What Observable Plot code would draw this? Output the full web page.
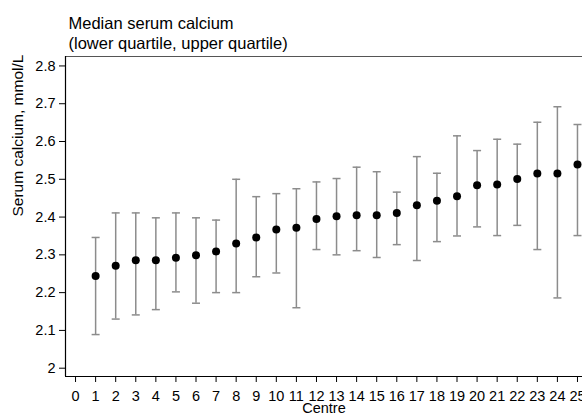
<!DOCTYPE html>
<html>
<head>
<meta charset="utf-8">
<script src="https://cdn.jsdelivr.net/npm/d3@7"></script>
<script src="https://cdn.jsdelivr.net/npm/@observablehq/plot@0.6"></script>
<style>
  html, body { margin: 0; padding: 0; background: #fff; }
  svg { font-family: "Liberation Sans", Arial, sans-serif; overflow: visible; }
</style>
</head>
<body>
<div id="chart"></div>
<script>
const centres = [1,2,3,4,5,6,7,8,9,10,11,12,13,14,15,16,17,18,19,20,21,22,23,24,25];
const median = [2.244,2.271,2.286,2.286,2.292,2.299,2.309,2.330,2.346,2.367,2.372,2.395,2.402,2.405,2.405,2.411,2.431,2.443,2.455,2.484,2.486,2.501,2.515,2.515,2.539];
const lowerQ = [2.089,2.130,2.141,2.155,2.202,2.172,2.200,2.200,2.242,2.252,2.160,2.314,2.300,2.311,2.293,2.327,2.285,2.335,2.350,2.374,2.351,2.378,2.314,2.186,2.351];
const upperQ = [2.346,2.411,2.411,2.398,2.411,2.398,2.392,2.500,2.454,2.462,2.475,2.493,2.502,2.532,2.520,2.466,2.560,2.516,2.615,2.576,2.606,2.593,2.651,2.692,2.645];
const xTicks = d3.range(0, 26);
const yTicks = [2, 2.1, 2.2, 2.3, 2.4, 2.5, 2.6, 2.7, 2.8];
const xDomain = [-0.5, 25.25];
const yDomain = [1.978, 2.825];
const titleLines = ["Median serum calcium", "(lower quartile, upper quartile)"];

const data = centres.map((c, i) => ({centre: c, median: median[i], lo: lowerQ[i], hi: upperQ[i]}));

const cap = { draw(ctx, size) { ctx.moveTo(-4, 0); ctx.lineTo(4, 0); } };
const barColor = "#8c8c8c";

const chart = Plot.plot({
  width: 582,
  height: 415,
  marginLeft: 65,
  marginRight: 0,
  marginTop: 56,
  marginBottom: 39,
  style: { fontFamily: '"Liberation Sans", Arial, sans-serif', fontSize: "15px", color: "#000", background: "#fff" },
  x: { domain: xDomain, label: null },
  y: { domain: yDomain, label: null },
  marks: [
    Plot.axisY({ ticks: yTicks, tickFormat: d => String(d), tickSize: 6, tickPadding: 4, fontSize: 14.5, label: null, stroke: "#000" }),
    Plot.axisX({ ticks: xTicks, tickFormat: d => String(d), tickSize: 6, tickPadding: 8, fontSize: 14.5, label: null, stroke: "#000" }),
    Plot.ruleY([yDomain[1]], { stroke: "#555", strokeWidth: 1.2 }),
    Plot.ruleX([xDomain[0]], { stroke: "#000", strokeWidth: 1.2 }),
    Plot.ruleY([yDomain[0]], { stroke: "#000", strokeWidth: 1.2 }),
    Plot.ruleX(data, { x: "centre", y1: "lo", y2: "hi", stroke: barColor, strokeWidth: 1.5 }),
    Plot.dot(data, { x: "centre", y: "lo", symbol: cap, stroke: barColor, strokeWidth: 1.5, fill: "none" }),
    Plot.dot(data, { x: "centre", y: "hi", symbol: cap, stroke: barColor, strokeWidth: 1.5, fill: "none" }),
    Plot.dot(data, { x: "centre", y: "median", r: 4, fill: "#000", stroke: "none" }),
    Plot.text([titleLines[0]], { frameAnchor: "top-left", textAnchor: "start", lineAnchor: "bottom", dx: 3, dy: -28, fontSize: 16.5, fill: "#000" }),
    Plot.text([titleLines[1]], { frameAnchor: "top-left", textAnchor: "start", lineAnchor: "bottom", dx: 3, dy: -8, fontSize: 16.5, fill: "#000" }),
    Plot.text(["Centre"], { frameAnchor: "bottom", lineAnchor: "bottom", dy: 36, fontSize: 14.5, fill: "#000" }),
    Plot.text(["Serum calcium, mmol/L"], { frameAnchor: "left", rotate: -90, dx: -47, fontSize: 15.5, fill: "#000" })
  ]
});
document.getElementById("chart").appendChild(chart);
</script>
</body>
</html>
